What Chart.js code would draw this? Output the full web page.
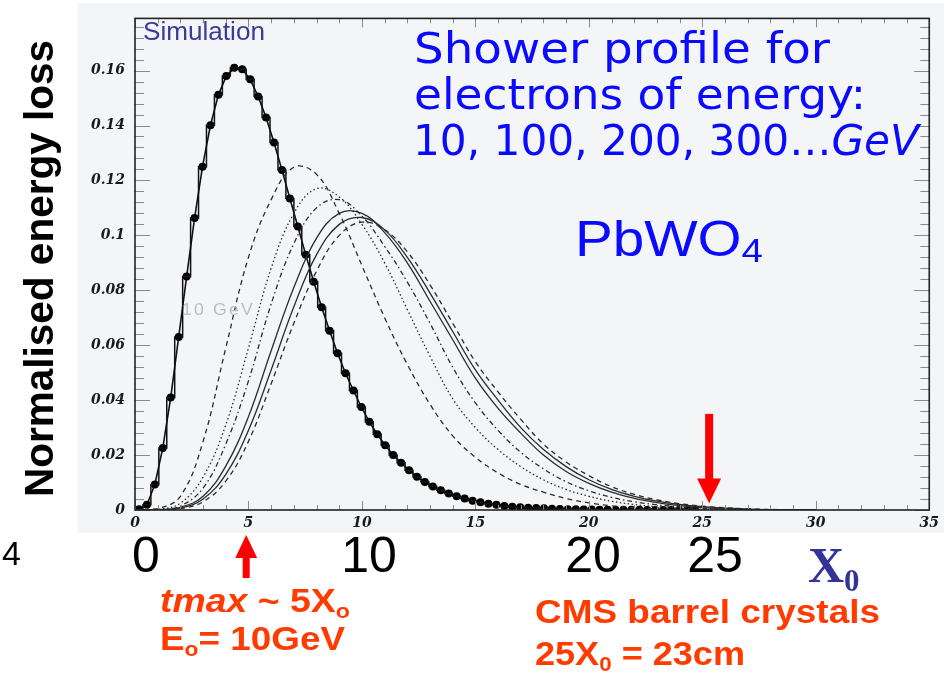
<!DOCTYPE html>
<html>
<head>
<meta charset="utf-8">
<script src="https://cdn.jsdelivr.net/npm/chart.js@4.4.1/dist/chart.umd.min.js"></script>
<style>
  html, body { margin:0; padding:0; background:#ffffff; }
  #stage { position:relative; width:944px; height:678px; overflow:hidden; background:#ffffff; }
  #panel { position:absolute; left:78px; top:3px; width:866px; height:530px; background:#f4f5f7; }
  #c { position:absolute; left:0; top:0; }
  #overlay { position:absolute; left:0; top:0; width:944px; height:678px; pointer-events:none; }
  .t { position:absolute; left:0; top:0; white-space:nowrap; line-height:1.2; transform-origin:0 0; }
</style>
</head>
<body>
<div id="stage">
  <div id="panel"></div>
  <canvas id="c" width="944" height="678"></canvas>
  <div id="overlay"></div>
</div>
<script>
// ---------------- DATA ----------------
// 10 GeV electron: histogram bin centres (radiation lengths X0) and normalised energy loss
const depth10 = [
  0.175,0.525,0.875,1.225,1.575,1.925,2.275,2.625,2.975,3.325,
  3.675,4.025,4.375,4.725,5.075,5.425,5.775,6.125,6.475,6.825,
  7.175,7.525,7.875,8.225,8.575,8.925,9.275,9.625,9.975,10.325,
  10.675,11.025,11.375,11.725,12.075,12.425,12.775,13.125,13.475,13.825,
  14.175,14.525,14.875,15.225,15.575,15.925,16.275,16.625,16.975,17.325,
  17.675,18.025,18.375,18.725,19.075,19.425,19.775,20.125,20.475,20.825,
  21.175,21.525,21.875,22.225,22.575,22.925,23.275,23.625,23.975,24.325,
  24.675
];
const loss10 = [
  0.0003,0.0019,0.0093,0.0226,0.041,0.063,0.085,0.1063,0.125,0.1401,
  0.1512,0.158,0.161,0.1605,0.1568,0.1506,0.1429,0.1338,0.1238,0.1134,
  0.1032,0.0929,0.0831,0.0738,0.0653,0.0571,0.0498,0.0435,0.0375,0.0321,
  0.0276,0.0236,0.0200,0.0172,0.0145,0.0121,0.0102,0.0086,0.0072,0.0060,
  0.0050,0.0042,0.0034,0.0028,0.0023,0.0019,0.0015,0.0012,0.0010,0.0008,
  0.0007,0.0006,0.0005,0.0004,0.0003,0.0003,0.0002,0.0002,0.0001,0.0001,
  0.0001,0.0001,0.0001,0.0001,0,0,0,0,0,0,
  0
];
// higher-energy showers, sampled every radiation length
const depthSmooth = [0,1,2,3,4,5,6,7,8,9,10,11,12,13,14,15,16,17,18,19,20,21,22,23,24,25,26,27,28,29,30];
const lossA = [0,0.0005,0.005,0.025,0.059,0.092,0.113,0.1248,0.1222,0.108,0.089,0.070,0.053,0.0385,0.027,0.0192,0.0135,0.0093,0.0065,0.0042,0.0026,0.0015,0.0008,0.0004,0.0002,0.0001,0,0,0,0,0];
const lossB = [0,0.0002,0.0025,0.012,0.031,0.059,0.088,0.108,0.117,0.114,0.104,0.090,0.073,0.056,0.0405,0.030,0.022,0.0158,0.011,0.0075,0.005,0.0032,0.002,0.0012,0.0007,0.0003,0.0001,0,0,0,0];
const lossC = [0,0.0001,0.0015,0.008,0.024,0.047,0.075,0.097,0.110,0.113,0.107,0.096,0.083,0.068,0.052,0.039,0.029,0.021,0.015,0.0103,0.007,0.0046,0.003,0.0019,0.0011,0.0006,0.0003,0.0001,0,0,0];
const lossD = [0,0.0001,0.001,0.005,0.016,0.034,0.058,0.081,0.099,0.108,0.108,0.101,0.090,0.076,0.062,0.048,0.037,0.028,0.020,0.014,0.0097,0.0065,0.0042,0.0027,0.0016,0.0009,0.0005,0.0002,0.0001,0,0];
const lossE = [0,0.0001,0.0007,0.004,0.013,0.029,0.051,0.074,0.093,0.104,0.1065,0.102,0.092,0.079,0.065,0.051,0.040,0.030,0.022,0.0158,0.011,0.0075,0.005,0.0032,0.002,0.0012,0.0007,0.0003,0.0001,0,0];
const lossF = [0,0,0.0005,0.003,0.0105,0.025,0.046,0.068,0.087,0.100,0.1048,0.102,0.094,0.082,0.068,0.054,0.043,0.033,0.024,0.0175,0.0125,0.0085,0.0057,0.0037,0.0023,0.0014,0.0008,0.0004,0.0002,0.0001,0];
const smoothLabels = ['100 GeV','200 GeV','300 GeV','400 GeV','500 GeV','600 GeV'];
const smoothDash = [[5,4],[1.5,2.5],[5,3,1.5,3],[],[],[5,4]];
const xTickValues = [0,5,10,15,20,25,30,35];
const yTickValues = [0,0.02,0.04,0.06,0.08,0.1,0.12,0.14,0.16];
// -----------------------------------------------------------------------

const toPts = (xs, ys) => xs.map((x, i) => ({x, y: ys[i]}));
const smoothSeries = [lossA, lossB, lossC, lossD, lossE, lossF];

const datasets = smoothSeries.map((s, k) => ({
  label: smoothLabels[k],
  data: toPts(depthSmooth, s),
  borderColor: '#2b2b2b',
  borderWidth: 1.3,
  borderDash: smoothDash[k],
  pointRadius: 0,
  tension: 0.4,
  fill: false
}));
datasets.push({
  label: '10 GeV histogram',
  data: toPts(depth10, loss10),
  stepped: 'middle',
  borderColor: '#111',
  borderWidth: 1.5,
  pointRadius: 0,
  fill: false
});
datasets.push({
  label: '10 GeV',
  data: toPts(depth10, loss10),
  borderColor: '#111',
  borderWidth: 1.6,
  tension: 0,
  pointRadius: 4,
  pointBackgroundColor: '#000',
  pointBorderWidth: 0,
  fill: false
});

const frameTicks = {
  id: 'frameTicks',
  afterDraw(chart) {
    const {ctx, chartArea: a, scales: {x, y}} = chart;
    const line = (x1, y1, x2, y2) => { ctx.beginPath(); ctx.moveTo(x1, y1); ctx.lineTo(x2, y2); ctx.stroke(); };
    ctx.save();
    ctx.strokeStyle = '#8a8a8a';
    ctx.lineWidth = 1;
    for (let k = 0; k <= 35; k++) {
      const px = Math.round(x.getPixelForValue(k)) + 0.5;
      const L = k % 5 === 0 ? 9 : 5;
      line(px, a.bottom, px, a.bottom - L);
      line(px, a.top, px, a.top + L);
    }
    for (let k = 0; k <= 44; k++) {
      const py = Math.round(y.getPixelForValue(k * 0.004)) + 0.5;
      const L = k % 5 === 0 ? 15 : 9;
      line(a.left, py, a.left + L, py);
      line(a.right, py, a.right - L, py);
    }
    ctx.strokeStyle = '#222';
    ctx.lineWidth = 1.6;
    ctx.strokeRect(a.left, a.top, a.width, a.height);
    // red arrows
    ctx.fillStyle = '#ff0000';
    // down arrow at 25 X0 (CMS crystal length)
    const dx = x.getPixelForValue(25.3);
    const top = y.getPixelForValue(0.035), hb = y.getPixelForValue(0.0115), tip = y.getPixelForValue(0.0025);
    ctx.fillRect(dx - 4, top, 8, hb - top + 1);
    ctx.beginPath(); ctx.moveTo(dx - 12, hb); ctx.lineTo(dx + 12, hb); ctx.lineTo(dx, tip); ctx.closePath(); ctx.fill();
    // up arrow at tmax ~ 5 X0
    const ux = x.getPixelForValue(4.9);
    const utip = a.bottom + 25, ubase = a.bottom + 48, uend = a.bottom + 68;
    ctx.beginPath(); ctx.moveTo(ux - 11, ubase); ctx.lineTo(ux + 11, ubase); ctx.lineTo(ux, utip); ctx.closePath(); ctx.fill();
    ctx.fillRect(ux - 3.5, ubase - 1, 7, uend - ubase + 1);
    ctx.restore();
  }
};

const tickFont = {family: '"DejaVu Serif", "Liberation Serif", serif', size: 14, weight: 'bold', style: 'italic'};

new Chart(document.getElementById('c').getContext('2d'), {
  type: 'line',
  data: { datasets },
  options: {
    responsive: false,
    animation: false,
    devicePixelRatio: 1,
    layout: { padding: { left: 78, top: 9, right: 9, bottom: 148 } },
    plugins: { legend: { display: false }, tooltip: { enabled: false } },
    scales: {
      x: {
        type: 'linear', min: 0, max: 35,
        afterBuildTicks(s) { s.ticks = xTickValues.map(v => ({value: v})); },
        ticks: { font: tickFont, color: '#1a1a1a', padding: 5, maxRotation: 0, autoSkip: false,
                 callback: v => String(v) },
        grid: { display: false, drawTicks: false },
        border: { display: false },
        afterFit(s) { s.height = 20; }
      },
      y: {
        type: 'linear', min: 0, max: 0.179,
        afterBuildTicks(s) { s.ticks = yTickValues.map(v => ({value: v})); },
        ticks: { font: tickFont, color: '#1a1a1a', padding: 10, autoSkip: false,
                 callback: v => v === 0 ? '0' : String(+v.toFixed(3)) },
        grid: { display: false, drawTicks: false },
        border: { display: false },
        afterFit(s) { s.width = 57; }
      }
    }
  },
  plugins: [frameTicks]
});

// ---------------- slide texts (real DOM text) ----------------
const overlay = document.getElementById('overlay');
function place(html, o) {
  const el = document.createElement('div');
  el.className = 't';
  el.style.font = `${o.style || 'normal'} ${o.weight || 'normal'} ${o.size}px ${o.family}`;
  el.style.lineHeight = '1.2';
  el.style.color = o.color;
  if (o.ls) el.style.letterSpacing = o.ls + 'px';
  el.innerHTML = html + '<span class="bm" style="display:inline-block;width:0;height:0;vertical-align:baseline"></span>';
  overlay.appendChild(el);
  const bo = el.querySelector('.bm').offsetTop;
  const w = el.getBoundingClientRect().width;
  const s = o.w ? o.w / w : 1;
  if (o.rot) {
    el.style.transform = `translate(${o.x - bo}px, ${o.y}px) rotate(-90deg) scaleX(${s})`;
    return;
  }
  const left = (o.cx !== undefined) ? o.cx - w * s / 2 : o.x;
  el.style.transform = `translate(${left}px, ${o.base - bo}px) scaleX(${s})`;
}
const SANS = '"Liberation Sans", Arial, sans-serif';
const NARROW = '"Liberation Sans Narrow", "Liberation Sans", Arial, sans-serif';
const ROUND = '"DejaVu Sans", "Noto Sans", sans-serif';
const SERIF = '"Liberation Serif", "DejaVu Serif", serif';
const BLUE = '#0a0aff';
const RED = '#ff3b00';
const sub = (t, size, drop) => `<span style="font-size:${size}em;vertical-align:-${drop}em">${t}</span>`;

place('Normalised energy loss', {x: 53, y: 497, size: 40, family: SANS, weight: 'bold', color: '#000', w: 457, rot: true});
place('Simulation', {x: 143, base: 40, size: 26, family: SANS, color: '#3b3b98', w: 122});
place('Shower profile for', {x: 414, base: 63, size: 42, family: ROUND, color: BLUE, w: 416});
place('electrons of energy:', {x: 414, base: 109, size: 42, family: ROUND, color: BLUE, w: 452});
place('10, 100, 200, 300…<i>GeV</i>', {x: 413, base: 155, size: 42, family: ROUND, color: BLUE, w: 506});
place('PbWO' + sub('4', 0.68, 0.18), {x: 575, base: 256, size: 50, family: SANS, color: BLUE, w: 188});
place('10 GeV', {x: 182, base: 315, size: 16, family: SANS, color: '#bdbdbd', w: 73, ls: 2});
place('0', {cx: 146, base: 572, size: 50, family: SANS, color: '#000'});
place('10', {cx: 369, base: 572, size: 50, family: SANS, color: '#000'});
place('20', {cx: 593, base: 572, size: 50, family: SANS, color: '#000'});
place('25', {cx: 715, base: 572, size: 50, family: SANS, color: '#000'});
place('4', {x: 2, base: 565, size: 34, family: SANS, color: '#000'});
place('X' + sub('0', 0.62, 0.3), {x: 808, base: 582, size: 50, family: SERIF, weight: 'bold', color: '#333399'});
place('<i>tmax</i> ~ 5X' + sub('o', 0.62, 0.3), {x: 160, base: 612, size: 33, family: NARROW, weight: 'bold', color: RED, w: 190});
place('E' + sub('o', 0.62, 0.3) + '= 10GeV', {x: 160, base: 650, size: 33, family: NARROW, weight: 'bold', color: RED, w: 185});
place('CMS barrel crystals', {x: 535, base: 623, size: 33, family: NARROW, weight: 'bold', color: RED, w: 345});
place('25X' + sub('0', 0.62, 0.3) + ' = 23cm', {x: 535, base: 665, size: 33, family: NARROW, weight: 'bold', color: RED, w: 210});
</script>
</body>
</html>
